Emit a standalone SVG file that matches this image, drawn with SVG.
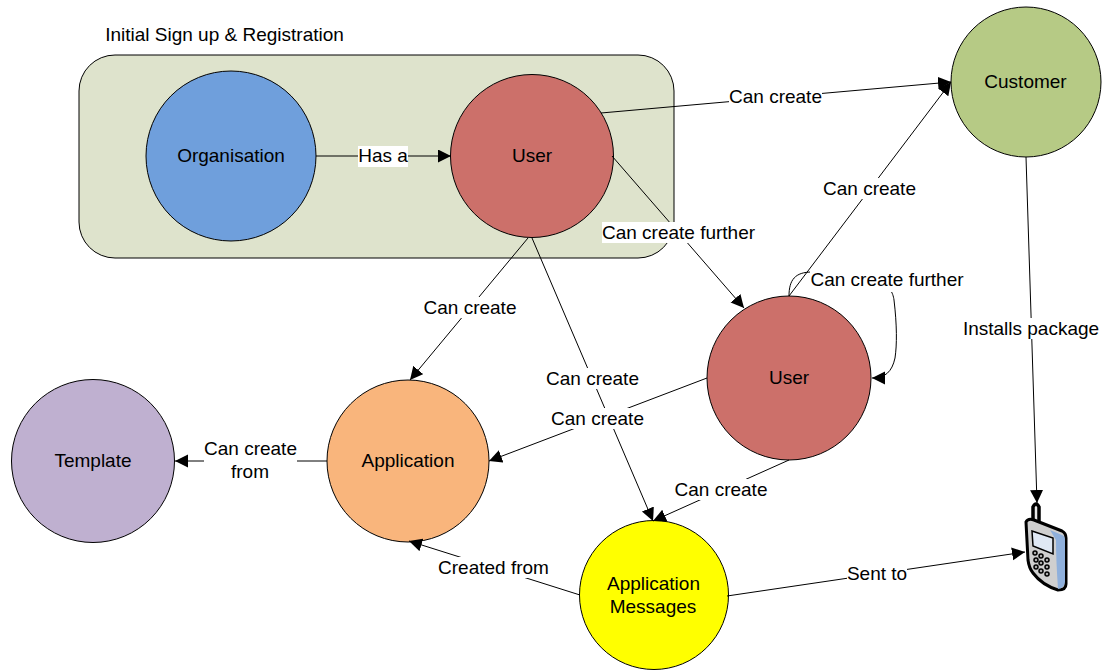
<svg xmlns="http://www.w3.org/2000/svg" width="1102" height="670" viewBox="0 0 1102 670">
<style>
text{font-family:"Liberation Sans",Arial,sans-serif;font-size:19px;fill:#000;text-anchor:middle}
.n{stroke:#000;stroke-width:1}
.c{fill:none;stroke:#000;stroke-width:1;marker-end:url(#a)}
.l{fill:#fff}
</style>
<defs>
<marker id="a" markerUnits="userSpaceOnUse" markerWidth="14" markerHeight="14" refX="13" refY="6.500" orient="auto"><path d="M0 0L13 6.500L0 13Z" fill="#000"/></marker>
</defs>
<g id="group-signup">
<rect x="79" y="55" width="595" height="203" rx="36" fill="#dee3cc" stroke="#000"/>
<text x="224.500" y="41">Initial Sign up &amp; Registration</text>
</g>
<g id="organisation"><circle class="n" cx="231" cy="156" r="85" fill="#6f9fdc"/><text x="231" y="162">Organisation</text></g>
<g id="user1"><circle class="n" cx="532" cy="156" r="81.500" fill="#cc706a"/><text x="532" y="162">User</text></g>
<g id="customer"><circle class="n" cx="1026" cy="82" r="75" fill="#b6ca85"/><text x="1025.500" y="88">Customer</text></g>
<g id="user2"><circle class="n" cx="789" cy="378" r="82" fill="#cc706a"/><text x="789" y="384">User</text></g>
<g id="application"><circle class="n" cx="408" cy="461" r="81" fill="#f9b57c"/><text x="408" y="467">Application</text></g>
<g id="template"><circle class="n" cx="93" cy="461" r="81.500" fill="#bfb0d0"/><text x="93" y="467">Template</text></g>
<g id="messages"><circle class="n" cx="654" cy="595" r="74.500" fill="#ffff00"/><text x="653.500" y="590">Application</text><text x="653" y="613">Messages</text></g>
<g id="phone">
<path d="M1033 530V507Q1036 501 1039 507V530Z" fill="#e8e8e8" stroke="#000" stroke-width="3.500"/>
<path d="M1026 522Q1028 518 1034 520L1062 531Q1066 533 1066 538V584Q1066 590 1058 590Q1042 585 1033 573Q1029 568 1028 560Z" fill="#cfcfcf" stroke="#000" stroke-width="3" stroke-linejoin="round"/>
<path d="M1050 530L1062 535Q1065 536 1065 540V582Q1064 588 1058 589Q1056 560 1056 540Z" fill="#8fb0dc"/>
<path d="M1032 531L1053 538V554L1033 546Z" fill="#dfe8f4" stroke="#000" stroke-width="1.500"/>
<g fill="#aaa" stroke="#000" stroke-width="1.500"><circle cx="1035" cy="553" r="2"/><circle cx="1041" cy="556" r="2"/><circle cx="1047" cy="560" r="2"/><circle cx="1036" cy="560" r="2"/><circle cx="1041" cy="563" r="2"/><circle cx="1047" cy="567" r="2"/><circle cx="1036" cy="567" r="2"/><circle cx="1041" cy="571" r="2"/><circle cx="1047" cy="574" r="2"/></g>
</g>
<g id="connectors">
<path class="c" d="M316 156H451"/>
<path class="c" d="M601 113L951 82"/>
<path class="c" d="M612 156L744 308"/>
<path class="c" d="M528 238L410 380"/>
<path class="c" d="M532 238L653 521"/>
<path class="c" d="M789 296L951 82"/>
<path class="c" d="M789 296C789 280 795 272 812 272C880 272 892 285 894 300C897 325 897 345 895 358C892 372 885 378 872 378"/>
<path class="c" d="M707 378L489 461"/>
<path class="c" d="M789 460L653 521"/>
<path class="c" d="M327 461H175"/>
<path class="c" d="M580 595L409 541"/>
<path class="c" d="M1026 157L1037 503"/>
<path class="c" d="M727 596L1025 552"/>
</g>
<g id="labels">
<rect class="l" x="358" y="146" width="50" height="21"/><text x="383" y="162">Has a</text>
<rect class="l" x="729" y="86" width="93" height="21"/><text x="775.500" y="103">Can create</text>
<rect class="l" x="602" y="222" width="153" height="21"/><text x="678.500" y="239">Can create further</text>
<rect class="l" x="423" y="297" width="94" height="21"/><text x="470" y="314">Can create</text>
<rect class="l" x="546" y="368" width="93" height="21"/><text x="592.500" y="385">Can create</text>
<rect class="l" x="823" y="178" width="93" height="21"/><text x="869.500" y="195">Can create</text>
<rect class="l" x="810" y="269" width="154" height="23"/><text x="887" y="286">Can create further</text>
<rect class="l" x="551" y="408" width="93" height="21"/><text x="597.500" y="425">Can create</text>
<rect class="l" x="674" y="479" width="94" height="21"/><text x="721" y="496">Can create</text>
<rect class="l" x="204" y="438" width="93" height="44"/><text x="250.500" y="455">Can create</text><text x="250" y="478">from</text>
<rect class="l" x="438" y="557" width="111" height="21"/><text x="493.500" y="574">Created from</text>
<rect class="l" x="963" y="318" width="136" height="21"/><text x="1031" y="335">Installs package</text>
<rect class="l" x="847" y="563" width="60" height="21"/><text x="877" y="580">Sent to</text>
</g>
</svg>
